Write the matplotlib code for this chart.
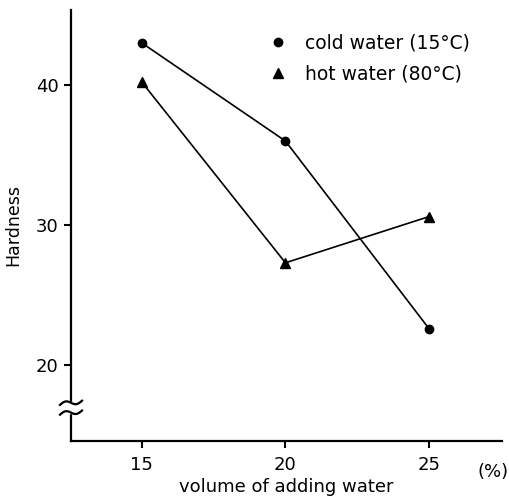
import numpy as np
import matplotlib
matplotlib.use("Agg")
import matplotlib.pyplot as plt
import matplotlib.transforms as mtransforms
from matplotlib.lines import Line2D

# Data
volume = [15, 20, 25]
cold_water = [43.0, 36.0, 22.6]
hot_water = [40.2, 27.3, 30.6]
x_ticks = [15, 20, 25]
y_ticks = [20, 30, 40]
labels = ['cold water (15°C)', 'hot water (80°C)']

plt.rcParams['font.family'] = ['DejaVu Sans']

fig = plt.figure(figsize=(5.09, 4.99), dpi=100)
ax = fig.add_axes([0.1395, 0.1162, 0.8465, 0.8638])

ax.plot(volume, cold_water, color='black', lw=1.2, marker='o', ms=6)
ax.plot(volume, hot_water, color='black', lw=1.2, marker='^', ms=7)

ax.set_xlim(12.53, 27.54)
ax.set_ylim(14.57, 45.36)
ax.set_xticks(x_ticks)
ax.set_yticks(y_ticks)
ax.tick_params(direction='out', length=5, width=1.5, labelsize=13, pad=4)
ax.tick_params(axis='x', pad=6)
for s in ['top', 'right']:
    ax.spines[s].set_visible(False)
for s in ['left', 'bottom']:
    ax.spines[s].set_linewidth(1.6)

ax.set_ylabel('Hardness', fontsize=12.5, labelpad=10)
ax.set_xlabel('volume of adding water', fontsize=13, labelpad=3)
ax.text(1.015, -0.05, '(%)', transform=ax.transAxes, fontsize=13,
        ha='right', va='top')

handles = [Line2D([], [], color='black', ls='none', marker='o', ms=6),
           Line2D([], [], color='black', ls='none', marker='^', ms=7)]
leg = fig.legend(handles, labels, loc='upper left',
                 bbox_to_anchor=(0.531, 0.932), frameon=False,
                 fontsize=13.5, handlelength=0.8, handletextpad=1.04,
                 labelspacing=0.6, borderpad=0, borderaxespad=0)

# axis break on y axis
trans = mtransforms.blended_transform_factory(ax.transAxes, ax.transData)
axw = ax.get_window_extent().width
dx = 11.0 / axw
ax.fill_between([-dx, dx], 16.6, 17.3, color='white', transform=trans,
                clip_on=False, zorder=5)
t = np.linspace(-1, 1, 50)
for y0 in (16.6, 17.3):
    ax.plot(t * dx, y0 - 0.17 * np.sin(np.pi * t) + 0.15 * t,
            color='black', lw=1.6, transform=trans, clip_on=False, zorder=6)

fig.savefig('out.png', dpi=100)
